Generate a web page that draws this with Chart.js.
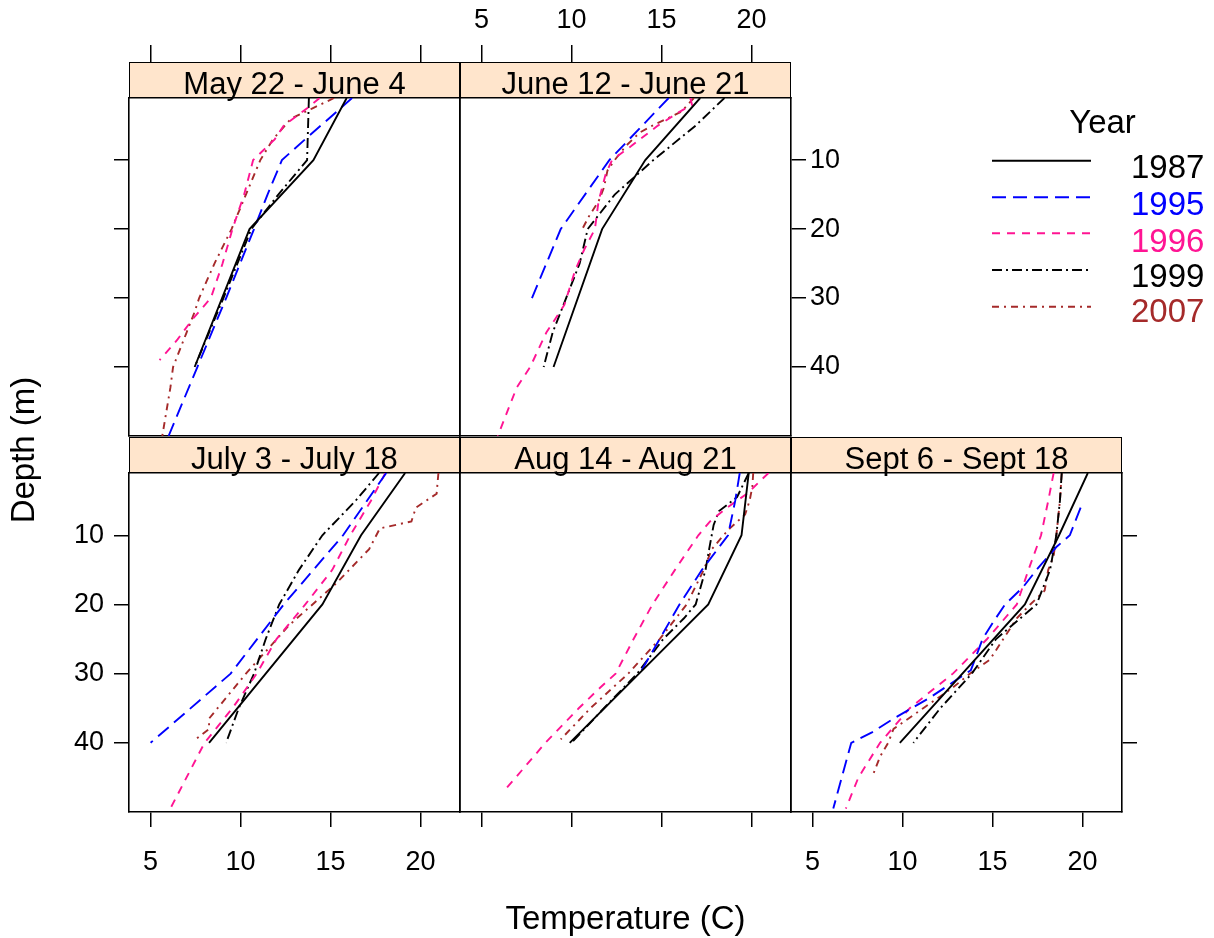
<!DOCTYPE html>
<html>
<head>
<meta charset="utf-8">
<script src="https://cdn.jsdelivr.net/npm/chart.js@4.4.0/dist/chart.umd.min.js"></script>
<style>
  html, body { margin:0; padding:0; background:#fff; }
  body { width:1214px; height:938px; position:relative; overflow:hidden; font-family:"Liberation Sans", Arial, sans-serif; color:#000; }
  canvas { position:absolute; }
  .strip { position:absolute; background:#FFE5CC; border:1.5px solid #000; box-sizing:border-box; text-align:center;
           font-size:31px; line-height:41px; height:36px; z-index:5; white-space:nowrap; overflow:visible; }
  .txt { position:absolute; white-space:nowrap; font-size:33px; line-height:33px; z-index:6; }
  svg { position:absolute; left:0; top:0; z-index:4; }
</style>
</head>
<body>
<script>
// ---------------- data ----------------
const panels = ['May 22 - June 4', 'June 12 - June 21', 'July 3 - July 18', 'Aug 14 - Aug 21', 'Sept 6 - Sept 18'];
const years  = ['1987', '1995', '1996', '1999', '2007'];
const tempTicks  = [5, 10, 15, 20];
const depthTicks = [10, 20, 30, 40];

// each series: [depth (m), temperature (C)]
// May 22 - June 4
const may_1987 = [[1,15.9],[10,14.05],[20,10.5],[40,7.45]];
const may_1995 = [[1,16.2],[4,14.9],[6.5,13.8],[10,12.3],[15,11.5],[20,10.75],[30,9.2],[40,7.6],[50,6.0]];
const may_1996 = [[1,14.4],[2.5,13.7],[5,12.4],[7,11.9],[10,10.7],[15,10.2],[20,9.55],[25,9.0],[30,8.35],[33,7.35],[36,6.5],[39,5.5]];
const may_1999 = [[1,13.8],[10,13.7],[15,12.1],[20,10.6],[30,9.05],[40,7.45]];
const may_2007 = [[1,15.2],[2.5,14.0],[4,12.8],[7,11.8],[10,11.1],[15,10.3],[20,9.5],[25,8.55],[30,7.7],[32,7.45],[35,7.0],[40,6.25],[43,6.1],[50,5.65]];
// June 12 - June 21
const jun_1987 = [[1,17.15],[10,14.1],[20,11.7],[40,9.0]];
const jun_1995 = [[1,15.4],[10,12.1],[20,9.4],[30,7.8]];
const jun_1996 = [[1,16.6],[2,16.7],[3,16.0],[5,14.8],[8,13.3],[10,12.25],[12,11.9],[16,11.5],[20,11.3],[23,10.7],[26,10.2],[31,9.6],[35,8.6],[40,7.7],[43,6.95],[50,5.9]];
const jun_1999 = [[1,18.5],[5,16.9],[10,14.55],[15,12.4],[18,11.5],[20,10.9],[25,10.45],[30,9.7],[35,8.95],[40,8.45]];
const jun_2007 = [[1,16.8],[3,16.1],[5,14.5],[6,13.8],[8,13.0],[10,12.4],[11.5,12.0],[14,11.8],[16,11.5],[18,11.0],[20,10.6]];
// July 3 - July 18
const jul_1987 = [[1,19.15],[10,16.7],[20,14.55],[40,8.25]];
const jul_1995 = [[1,18.1],[10,15.7],[20,12.4],[30,9.45],[40,5.0]];
const jul_1996 = [[1,18.05],[5,17.25],[10,16.1],[15,15.1],[20,13.6],[25,12.0],[30,10.9],[35,9.55],[40,8.0],[45,7.0],[49.5,6.1]];
const jul_1999 = [[1,17.7],[5,16.4],[10,14.55],[15,13.25],[20,12.15],[25,11.4],[30,10.75],[35,9.9],[40,9.2]];
const jul_2007 = [[1,21.0],[4,20.9],[6,19.75],[8,19.5],[9,17.75],[12,17.15],[17,15.3],[23,12.7],[30,10.3],[36.5,8.25],[38,8.25],[39.5,7.5]];
// Aug 14 - Aug 21
const aug_1987 = [[1,19.85],[10,19.45],[20,17.6],[40,9.9]];
const aug_1995 = [[1,19.35],[5,19.1],[10,18.7],[15,17.25],[20,16.0],[25,14.9],[29.5,13.9]];
const aug_1996 = [[1,20.95],[4,19.75],[6,18.65],[8,17.7],[10,17.05],[15,15.75],[20,14.5],[25,13.45],[30,12.45],[32,11.6],[35,10.4],[40,8.55],[45,6.9],[46.5,6.4]];
const aug_1999 = [[1,19.85],[4.5,19.2],[6.5,18.2],[8.5,17.9],[12,17.65],[15,17.45],[20,16.9],[22,16.25],[25,15.1],[30,13.65],[35,11.8],[40,10.0]];
const aug_2007 = [[1,20.1],[3,20.05],[5,19.9],[7,19.65],[9,18.8],[10,18.45],[12,17.8],[15,17.35],[20,16.4],[25,14.9],[30,13.15],[35,11.05],[39.5,9.4]];
// Sept 6 - Sept 18
const sep_1987 = [[1,20.3],[10,18.7],[20,16.8],[40,9.85]];
const sep_1995 = [[6,19.9],[10,19.3],[11.7,18.55],[15,17.45],[17.5,16.7],[20,15.7],[22.5,15.05],[25,14.45],[29.5,13.8],[33.5,11.5],[36.5,9.5],[38.5,8.3],[40,7.15],[49.5,6.15]];
const sep_1996 = [[1,18.4],[5,18.1],[10,17.7],[15,17.0],[20,16.35],[25,14.7],[30,12.8],[35,10.4],[40,8.75],[45,7.55],[49.5,6.85]];
const sep_1999 = [[1,18.85],[5,18.75],[10,18.55],[15,18.2],[20,17.45],[25,15.2],[30,13.85],[35,12.1],[40,10.6]];
const sep_2007 = [[1,18.85],[5,18.75],[10,18.55],[13,18.4],[15,18.1],[18,17.9],[20,17.1],[22,16.35],[25,15.6],[28,14.85],[30,13.75],[32,12.8],[35,11.15],[38,9.5],[40,9.2],[42,8.75],[45,8.3]];

const panelSeries = [
  [may_1987, may_1995, may_1996, may_1999, may_2007],
  [jun_1987, jun_1995, jun_1996, jun_1999, jun_2007],
  [jul_1987, jul_1995, jul_1996, jul_1999, jul_2007],
  [aug_1987, aug_1995, aug_1996, aug_1999, aug_2007],
  [sep_1987, sep_1995, sep_1996, sep_1999, sep_2007]
];

// ---------------- styles / layout ----------------
const yearColors = ['#000000', '#0000FF', '#FF1493', '#000000', '#A52A2A'];
const yearDashes = [[], [14,7], [8,7], [10,4,2,4], [7,5,2,5]];
const FONT = '"Liberation Sans", Arial, sans-serif';
const xMin = 3.8, xMax = 22.2, dMin = 1, dMax = 50;
const M = 100;
const colLeft = [129, 460, 791], colW = 331;
const rowTop = [98, 473], rowH = [338, 339];
const panelPos = [[0,0],[0,1],[1,0],[1,1],[1,2]]; // [row, col]
// axis modes per panel: none | ticks | labels
const axisModes = [
  {top:'ticks',  left:'ticks',  right:'none',   bottom:'none'},
  {top:'labels', left:'none',   right:'labels', bottom:'none'},
  {top:'none',   left:'labels', right:'none',   bottom:'labels'},
  {top:'none',   left:'none',   right:'none',   bottom:'ticks'},
  {top:'none',   left:'none',   right:'ticks',  bottom:'labels'}
];

function makeScale(pos, mode, isTopRow) {
  const horiz = (pos === 'top' || pos === 'bottom');
  const tickLen = (pos === 'top' && isTopRow) ? 53 : 15;
  const pad = {bottom:19, top:8, left:10, right:4}[pos];
  return {
    type: 'linear', position: pos, display: true,
    min: horiz ? xMin : dMin, max: horiz ? xMax : dMax,
    reverse: !horiz,
    afterBuildTicks: s => { s.ticks = (horiz ? tempTicks : depthTicks).map(v => ({value: v})); },
    afterFit: s => { if (horiz) s.height = M; else s.width = M; },
    grid: { display: true, drawOnChartArea: false, drawTicks: mode !== 'none', tickLength: tickLen, color: '#000', lineWidth: 1.5 },
    border: { display: true, color: '#000', width: 1.6 },
    ticks: { display: mode === 'labels', padding: pad, color: '#000', font: { family: FONT, size: 27 },
             autoSkip: false, maxRotation: 0, minRotation: 0 },
    title: { display: false }
  };
}

panels.forEach((name, i) => {
  const [r, c] = panelPos[i];
  const left = colLeft[c], top = rowTop[r], h = rowH[r];
  const cv = document.createElement('canvas');
  cv.width = colW + 2*M; cv.height = h + 2*M;
  cv.style.left = (left - M) + 'px'; cv.style.top = (top - M) + 'px';
  cv.style.width = cv.width + 'px'; cv.style.height = cv.height + 'px';
  document.body.appendChild(cv);
  const modes = axisModes[i];
  const datasets = panelSeries[i].map((ser, k) => ({
    label: years[k],
    data: ser.map(p => ({x: p[1], y: p[0]})),
    showLine: true, pointRadius: 0, pointHoverRadius: 0, tension: 0,
    borderColor: yearColors[k], backgroundColor: yearColors[k],
    borderWidth: 1.9, borderDash: yearDashes[k], borderCapStyle: 'butt', fill: false,
    xAxisID: 'x', yAxisID: 'y'
  }));
  new Chart(cv, {
    type: 'scatter',
    data: { datasets },
    options: {
      responsive: false, maintainAspectRatio: false, animation: false, devicePixelRatio: 1,
      layout: { padding: 0 },
      plugins: { legend: { display: false }, tooltip: { enabled: false }, title: { display: false } },
      events: [],
      scales: {
        x:  makeScale('bottom', modes.bottom, r === 0),
        x2: makeScale('top',    modes.top,    r === 0),
        y:  makeScale('left',   modes.left,   r === 0),
        y2: makeScale('right',  modes.right,  r === 0)
      }
    }
  });
  // strip
  const st = document.createElement('div');
  st.className = 'strip';
  st.style.left = left + 'px';
  st.style.width = colW + 'px';
  st.style.top = (top - 36) + 'px';
  st.textContent = name;
  document.body.appendChild(st);
});

// text helper: place text with baseline at y (33px font)
function addText(str, opts) {
  const d = document.createElement('div');
  d.className = 'txt';
  d.textContent = str;
  Object.assign(d.style, opts);
  document.body.appendChild(d);
  return d;
}

// axis titles
addText('Temperature (C)', { left: '425.5px', width: '400px', textAlign: 'center', top: (929 - 28) + 'px' });
addText('Depth (m)', { left: (22 - 100) + 'px', width: '200px', textAlign: 'center', top: (450 - 16) + 'px', transform: 'rotate(-90deg)', transformOrigin: '100px 16px' });

// legend
addText('Year', { left: '1002.5px', width: '200px', textAlign: 'center', top: (133 - 28) + 'px' });
const legLineY = [160.7, 197.3, 233.3, 270, 306.7];
const legTextBase = [178.3, 215, 251.7, 286.7, 321.7];
const svgNS = 'http://www.w3.org/2000/svg';
const svg = document.createElementNS(svgNS, 'svg');
svg.setAttribute('width', '1214'); svg.setAttribute('height', '938');
years.forEach((yr, k) => {
  const ln = document.createElementNS(svgNS, 'line');
  ln.setAttribute('x1', 992); ln.setAttribute('x2', 1091);
  ln.setAttribute('y1', legLineY[k]); ln.setAttribute('y2', legLineY[k]);
  ln.setAttribute('stroke', yearColors[k]); ln.setAttribute('stroke-width', 1.9);
  if (yearDashes[k].length) ln.setAttribute('stroke-dasharray', yearDashes[k].join(' '));
  svg.appendChild(ln);
  addText(yr, { left: '1131px', top: (legTextBase[k] - 28) + 'px', color: yearColors[k] });
});
document.body.appendChild(svg);
</script>
</body>
</html>
